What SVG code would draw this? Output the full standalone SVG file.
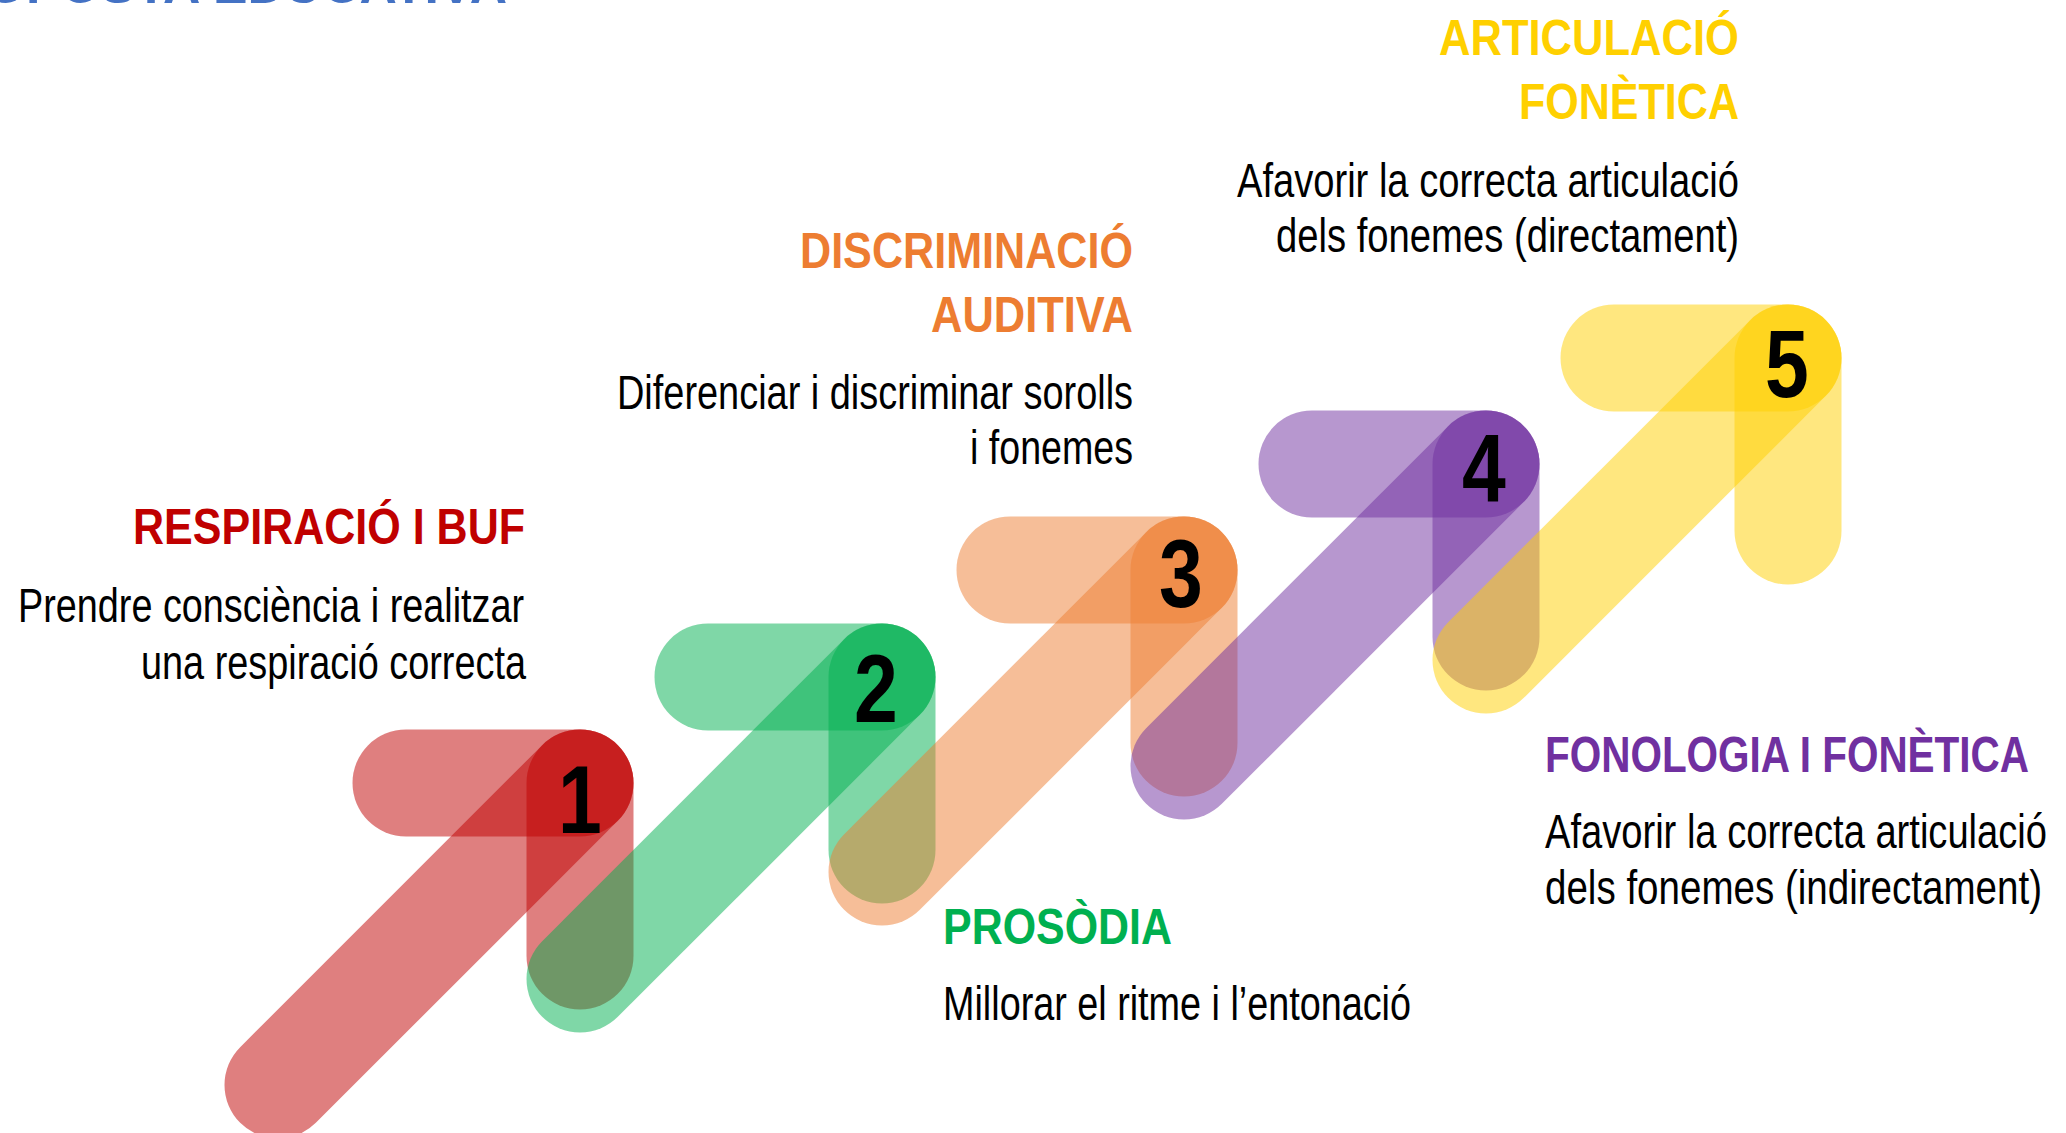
<svg xmlns="http://www.w3.org/2000/svg" width="2066" height="1133" viewBox="0 0 2066 1133">
  <style>
    .bar { fill: none; stroke-width: 107; stroke-linecap: round; opacity: 0.5; }
    .red { stroke: #C00000; }
    .green { stroke: #00B050; }
    .orange { stroke: #ED7D31; }
    .purple { stroke: #7030A0; }
    .yellow { stroke: #FFD000; }
    .num { font-family: "Liberation Sans", Arial, sans-serif; font-weight: bold; font-size: 96px; fill: #000; text-anchor: middle; }
    .ttl { font-family: "Liberation Sans", Arial, sans-serif; font-weight: bold; font-size: 50px; }
    .body { font-family: "Liberation Sans", Arial, sans-serif; font-size: 48px; fill: #000; }
  </style>
  <rect x="0" y="0" width="2066" height="1133" fill="#FFFFFF"/>
  <g id="header">
    <text x="-86" y="3" textLength="593" lengthAdjust="spacingAndGlyphs" style="font-family:'Liberation Sans',Arial,sans-serif;font-weight:bold;font-size:50px;fill:#4472C4">PROPOSTA EDUCATIVA</text>
  </g>
  <g id="connectors"></g>

  <g id="step1">
    <line class="bar red" x1="406" y1="783" x2="580" y2="783"/>
    <line class="bar red" x1="580" y1="783" x2="580" y2="956"/>
    <line class="bar red" x1="278" y1="1085" x2="580" y2="783"/>
    <g transform="translate(580,833) scale(0.82,1)"><text class="num" x="0" y="0">1</text></g>
    <text class="ttl" fill="#C00000" x="133" y="544" textLength="392" lengthAdjust="spacingAndGlyphs">RESPIRACIÓ I BUF</text>
    <text class="body" x="18" y="622" textLength="506" lengthAdjust="spacingAndGlyphs">Prendre consciència i realitzar</text>
    <text class="body" x="141" y="679" textLength="385" lengthAdjust="spacingAndGlyphs">una respiració correcta</text>
  </g>

  <g id="step2">
    <line class="bar green" x1="708" y1="677" x2="882" y2="677"/>
    <line class="bar green" x1="882" y1="677" x2="882" y2="850"/>
    <line class="bar green" x1="580" y1="979" x2="882" y2="677"/>
    <g transform="translate(876,722) scale(0.82,1)"><text class="num" x="0" y="0">2</text></g>
    <text class="ttl" fill="#00B050" x="943" y="944" textLength="229" lengthAdjust="spacingAndGlyphs">PROSÒDIA</text>
    <text class="body" x="943" y="1020" textLength="468" lengthAdjust="spacingAndGlyphs">Millorar el ritme i l’entonació</text>
  </g>

  <g id="step3">
    <line class="bar orange" x1="1010" y1="570" x2="1184" y2="570"/>
    <line class="bar orange" x1="1184" y1="570" x2="1184" y2="743"/>
    <line class="bar orange" x1="882" y1="872" x2="1184" y2="570"/>
    <g transform="translate(1181,607) scale(0.82,1)"><text class="num" x="0" y="0">3</text></g>
    <text class="ttl" fill="#ED7D31" x="800" y="268" textLength="333" lengthAdjust="spacingAndGlyphs">DISCRIMINACIÓ</text>
    <text class="ttl" fill="#ED7D31" x="931" y="332" textLength="202" lengthAdjust="spacingAndGlyphs">AUDITIVA</text>
    <text class="body" x="617" y="409" textLength="516" lengthAdjust="spacingAndGlyphs">Diferenciar i discriminar sorolls</text>
    <text class="body" x="970" y="464" textLength="163" lengthAdjust="spacingAndGlyphs">i fonemes</text>
  </g>

  <g id="step4">
    <line class="bar purple" x1="1312" y1="464" x2="1486" y2="464"/>
    <line class="bar purple" x1="1486" y1="464" x2="1486" y2="637"/>
    <line class="bar purple" x1="1184" y1="766" x2="1486" y2="464"/>
    <g transform="translate(1484,502) scale(0.82,1)"><text class="num" x="0" y="0">4</text></g>
    <text class="ttl" fill="#7030A0" x="1545" y="772" textLength="484" lengthAdjust="spacingAndGlyphs">FONOLOGIA I FONÈTICA</text>
    <text class="body" x="1545" y="848" textLength="502" lengthAdjust="spacingAndGlyphs">Afavorir la correcta articulació</text>
    <text class="body" x="1545" y="904" textLength="497" lengthAdjust="spacingAndGlyphs">dels fonemes (indirectament)</text>
  </g>

  <g id="step5">
    <line class="bar yellow" x1="1614" y1="358" x2="1788" y2="358"/>
    <line class="bar yellow" x1="1788" y1="358" x2="1788" y2="531"/>
    <line class="bar yellow" x1="1486" y1="660" x2="1788" y2="358"/>
    <g transform="translate(1787,397) scale(0.82,1)"><text class="num" x="0" y="0">5</text></g>
    <text class="ttl" fill="#FFD000" x="1439" y="55" textLength="300" lengthAdjust="spacingAndGlyphs">ARTICULACIÓ</text>
    <text class="ttl" fill="#FFD000" x="1519" y="119" textLength="220" lengthAdjust="spacingAndGlyphs">FONÈTICA</text>
    <text class="body" x="1237" y="197" textLength="502" lengthAdjust="spacingAndGlyphs">Afavorir la correcta articulació</text>
    <text class="body" x="1276" y="252" textLength="463" lengthAdjust="spacingAndGlyphs">dels fonemes (directament)</text>
  </g>
</svg>
